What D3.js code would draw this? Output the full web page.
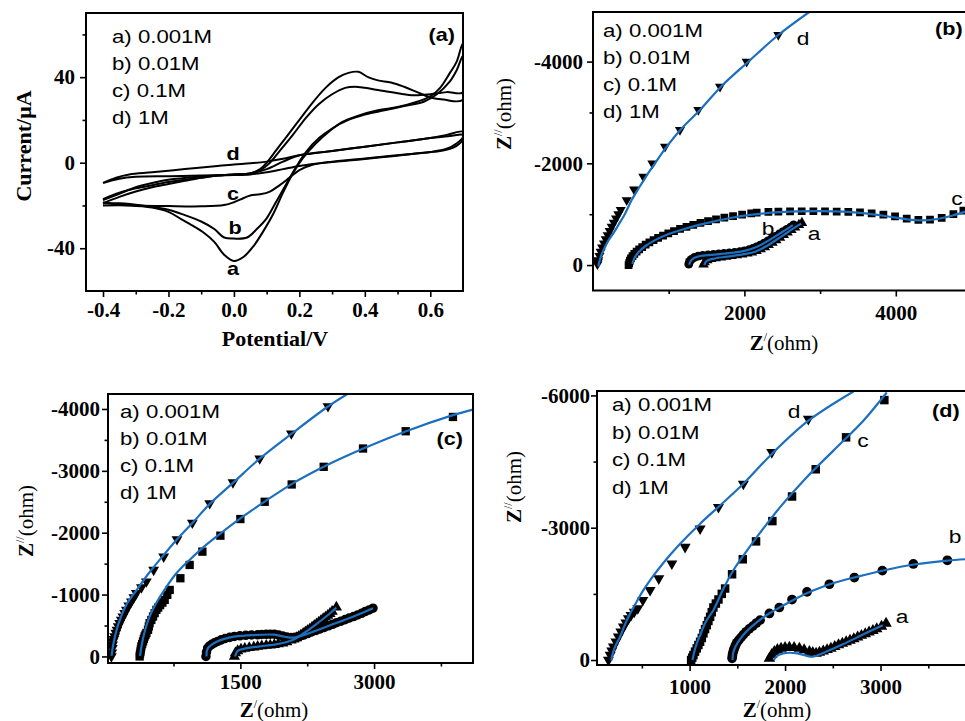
<!DOCTYPE html>
<html><head><meta charset="utf-8">
<script src="https://cdn.jsdelivr.net/npm/d3@7"></script>
<style>
body{margin:0;background:#fff}
svg{display:block;background:#fff}
.tick text{font-family:"Liberation Serif","Times New Roman",serif;font-weight:bold;font-size:21px;fill:#000}
.tick line{stroke:#000;stroke-width:1.6}
</style></head><body>
<svg id="fig" width="965" height="721"></svg>
<script>
// ---------- shared labels ----------
const concLabels = ["a) 0.001M", "b) 0.01M", "c) 0.1M", "d) 1M"];
const curveKeys = ["a", "b", "c", "d"];

// ---------- (a) cyclic voltammograms: [potential / V, current / µA] ----------
const cvA = [[-0.40,-19],[-0.35,-16],[-0.30,-13.5],[-0.25,-11.5],[-0.20,-10],[-0.15,-8.5],[-0.10,-7],[-0.05,-6],[0.00,-5.5],[0.05,-5],[0.08,-3],[0.10,0],[0.13,6],[0.16,12],[0.20,20],[0.24,28],[0.28,35],[0.32,40],[0.35,42],[0.38,42.5],[0.41,40],[0.44,38.5],[0.48,37.5],[0.52,35.5],[0.56,33],[0.60,30.5],[0.64,29.5],[0.70,29.5],[0.70,56],[0.68,47],[0.66,42],[0.63,35],[0.60,31],[0.56,28.5],[0.50,26],[0.44,24.5],[0.38,22],[0.33,19],[0.29,14.5],[0.25,9],[0.21,2],[0.18,-5],[0.15,-14],[0.12,-24],[0.09,-32],[0.06,-39],[0.03,-44],[0.00,-46],[-0.03,-43],[-0.06,-37],[-0.09,-33],[-0.12,-30],[-0.16,-26.5],[-0.20,-23],[-0.25,-21],[-0.32,-20],[-0.40,-20]];
const cvB = [[-0.40,-17],[-0.35,-14],[-0.30,-12],[-0.25,-10.5],[-0.20,-9],[-0.15,-8],[-0.10,-7],[-0.05,-6],[0.00,-5.5],[0.05,-5],[0.08,-3.5],[0.11,0],[0.14,5.5],[0.18,13],[0.22,21],[0.26,27.5],[0.30,32],[0.34,35],[0.37,35.5],[0.40,35],[0.44,34],[0.50,32.5],[0.55,31.5],[0.60,32],[0.65,33],[0.70,33],[0.70,50],[0.68,43],[0.66,38],[0.62,32],[0.58,28.5],[0.52,26.5],[0.46,24.5],[0.40,22.5],[0.35,20],[0.30,16],[0.26,11.5],[0.22,5],[0.19,-2],[0.16,-10],[0.13,-18],[0.10,-26],[0.07,-31],[0.04,-35],[0.00,-35.5],[-0.03,-35],[-0.06,-31],[-0.10,-27.5],[-0.15,-24.5],[-0.20,-22],[-0.28,-20],[-0.35,-19],[-0.40,-19]];
const cvC = [[-0.40,-17.5],[-0.35,-14.5],[-0.30,-11.5],[-0.25,-9.5],[-0.20,-8],[-0.10,-6.5],[0.00,-5.5],[0.05,-5],[0.10,-3],[0.15,0.5],[0.20,3.5],[0.25,4.5],[0.30,5.5],[0.40,7.5],[0.50,9.5],[0.60,11.5],[0.65,13],[0.70,14.5],[0.70,12],[0.68,9],[0.65,6.5],[0.60,5],[0.50,3.5],[0.40,2],[0.30,0.5],[0.24,-1],[0.20,-3.5],[0.17,-7],[0.14,-10.5],[0.11,-13.5],[0.08,-14.8],[0.05,-15.3],[0.03,-16.5],[0.00,-18.5],[-0.03,-19.8],[-0.10,-20.4],[-0.20,-20.3],[-0.30,-20],[-0.36,-19.5],[-0.40,-18.5]];
const cvD = [[-0.40,-9.5],[-0.36,-7],[-0.32,-5.5],[-0.25,-4.5],[-0.15,-3],[-0.05,-1.5],[0.00,-0.8],[0.05,-0.3],[0.10,0.5],[0.15,1.8],[0.20,3.5],[0.30,5.5],[0.40,7.5],[0.50,9.5],[0.60,11.5],[0.66,12.5],[0.70,13],[0.70,11],[0.67,7],[0.63,5.5],[0.55,4.2],[0.45,2.5],[0.35,1],[0.25,-0.5],[0.20,-1.5],[0.15,-3],[0.10,-4.5],[0.05,-5.5],[0.00,-5.8],[-0.10,-6],[-0.20,-6.3],[-0.30,-6.6],[-0.35,-7.5],[-0.40,-9.5]];
const cvTicksMajorX = [-0.4,-0.2,0,0.2,0.4,0.6];
const cvTicksMinorX = [-0.3,-0.1,0.1,0.3,0.5];
const cvTicksMajorY = [-40,0,40];
const cvTicksMinorY = [-20,20,60];

// ---------- (b) Nyquist data: [Z' / ohm, Z'' / ohm] ----------
const nbA = [[1460,-10],[1475,-55],[1510,-95],[1560,-120],[1620,-135],[1690,-150],[1760,-165],[1830,-180],[1900,-195],[1970,-210],[2040,-228],[2100,-250],[2160,-275],[2215,-310],[2270,-350],[2320,-395],[2370,-440],[2420,-490],[2470,-540],[2520,-590],[2570,-640],[2620,-690],[2670,-740],[2720,-790],[2760,-830]];
const nbB = [[1265,-20],[1275,-70],[1300,-110],[1340,-150],[1390,-175],[1450,-190],[1520,-200],[1590,-210],[1660,-220],[1730,-230],[1800,-240],[1870,-250],[1940,-262],[2000,-280],[2060,-300],[2110,-325],[2160,-355],[2210,-390],[2260,-430],[2310,-475],[2360,-520],[2410,-565],[2460,-610],[2510,-655],[2560,-700],[2610,-745],[2650,-790]];
const nbC = [[470,0],[478,-40],[488,-85],[502,-130],[522,-175],[546,-220],[576,-265],[610,-310],[650,-355],[695,-400],[745,-445],[800,-490],[860,-535],[925,-580],[995,-625],[1070,-668],[1150,-710],[1235,-750],[1325,-790],[1420,-828],[1520,-865],[1625,-900],[1735,-932],[1850,-962],[1970,-990],[2090,-1015],[2162,-1030],[2317,-1045],[2449,-1050],[2603,-1055],[2757,-1058],[2911,-1058],[3065,-1055],[3219,-1050],[3373,-1045],[3527,-1035],[3681,-1015],[3836,-990],[3990,-955],[4144,-915],[4298,-890],[4452,-895],[4606,-930],[4761,-1000],[4893,-1070]];
const nbD = [[58,-15],[64,-55],[70,-98],[85,-180],[101,-262],[120,-345],[145,-426],[168,-508],[194,-590],[220,-672],[247,-754],[275,-836],[304,-918],[335,-1000],[366,-1082],[445,-1278],[542,-1488],[665,-1737],[784,-2000],[951,-2327],[1149,-2655],[1391,-3048],[1678,-3507],[2030,-3998],[2448,-4523]];
const fbA = [[1470,0],[1500,-80],[1600,-128],[1800,-172],[2000,-215],[2150,-268],[2300,-380],[2500,-575],[2700,-770],[2750,-815]];
const fbB = [[1270,-5],[1300,-100],[1400,-172],[1600,-205],[1850,-245],[2000,-280],[2150,-350],[2300,-465],[2500,-650],[2640,-785]];
const fbC = [[520,-20],[545,-130],[600,-250],[690,-370],[820,-490],[1000,-610],[1250,-730],[1500,-825],[1800,-920],[2100,-990],[2400,-1035],[2700,-1055],[3000,-1060],[3300,-1050],[3600,-1015],[3900,-955],[4150,-900],[4350,-880],[4550,-905],[4750,-975],[4950,-1065]];
const fbD = [[70,30],[100,-150],[150,-330],[210,-500],[268,-623],[340,-800],[420,-1000],[511,-1278],[600,-1500],[700,-1740],[820,-2000],[973,-2327],[1180,-2700],[1413,-3048],[1700,-3520],[2052,-3998],[2448,-4523],[2870,-4990]];

// ---------- (c) Nyquist data ----------
const ncA = [[1433,0],[1445,-55],[1470,-90],[1507,-115],[1550,-128],[1600,-140],[1650,-150],[1694,-161],[1740,-168],[1790,-176],[1835,-182],[1881,-189],[1925,-200],[1975,-215],[2020,-235],[2068,-260],[2100,-280],[2130,-300],[2155,-322],[2180,-345],[2205,-370],[2230,-395],[2255,-420],[2280,-445],[2305,-472],[2330,-498],[2355,-525],[2380,-552],[2405,-580],[2430,-608],[2455,-634],[2480,-660],[2505,-692],[2530,-725],[2577,-796]];
const ncB = [[1114,0],[1120,-70],[1133,-135],[1155,-170],[1180,-195],[1210,-220],[1245,-242],[1285,-268],[1330,-290],[1380,-308],[1433,-323],[1495,-334],[1560,-342],[1625,-347],[1694,-350],[1740,-355],[1790,-358],[1835,-360],[1881,-360],[1930,-345],[1975,-330],[2020,-315],[2068,-305],[2115,-310],[2160,-320],[2210,-345],[2255,-370],[2300,-395],[2350,-420],[2395,-445],[2442,-470],[2490,-495],[2535,-520],[2580,-545],[2629,-570],[2675,-595],[2720,-620],[2770,-645],[2816,-670],[2860,-697],[2900,-725],[2945,-752],[2988,-780]];
const ncC = [[370,0],[374,-40],[380,-80],[384,-120],[389,-161],[398,-200],[408,-242],[417,-283],[426,-323],[436,-352],[446,-380],[464,-430],[473,-485],[482,-538],[501,-590],[520,-645],[539,-700],[558,-753],[578,-790],[600,-830],[625,-870],[651,-914],[680,-995],[707,-1075],[827,-1264],[931,-1479],[1074,-1694],[1276,-1952],[1500,-2221],[1773,-2500],[2076,-2780],[2435,-3065],[2876,-3361],[3355,-3640],[3885,-3871]];
const ncD = [[53,0],[58,-60],[64,-135],[67,-190],[71,-242],[80,-280],[90,-323],[103,-380],[116,-430],[130,-485],[146,-538],[164,-590],[183,-645],[202,-700],[221,-753],[248,-820],[277,-887],[305,-955],[333,-1022],[390,-1115],[445,-1210],[527,-1398],[640,-1613],[789,-1893],[961,-2161],[1156,-2474],[1417,-2812],[1717,-3199],[2072,-3603],[2483,-4043]];
const fcA = [[1440,0],[1470,-90],[1560,-130],[1700,-160],[1880,-190],[2000,-225],[2100,-275],[2200,-365],[2350,-520],[2500,-690],[2577,-790]];
const fcB = [[1120,0],[1135,-130],[1240,-240],[1430,-320],[1700,-348],[1880,-352],[2000,-318],[2100,-305],[2250,-365],[2500,-500],[2750,-635],[2988,-780]];
const fcC = [[375,-10],[395,-200],[430,-420],[480,-640],[555,-860],[650,-1080],[780,-1340],[930,-1560],[1080,-1760],[1280,-1990],[1500,-2230],[1780,-2510],[2080,-2790],[2440,-3070],[2880,-3360],[3360,-3640],[3885,-3900],[4110,-3990]];
const fcD = [[55,-10],[75,-200],[110,-420],[160,-640],[230,-860],[340,-1080],[470,-1340],[640,-1640],[800,-1910],[970,-2170],[1160,-2470],[1420,-2810],[1720,-3200],[2075,-3600],[2483,-4040],[2710,-4250]];

// ---------- (d) Nyquist data ----------
const ndA = [[1836,-38],[1860,-120],[1888,-188],[1920,-235],[1958,-264],[2000,-282],[2045,-287],[2095,-280],[2150,-264],[2200,-228],[2255,-188],[2290,-165],[2325,-151],[2360,-175],[2400,-200],[2440,-232],[2480,-265],[2520,-302],[2560,-340],[2600,-375],[2640,-410],[2680,-445],[2720,-480],[2760,-518],[2800,-555],[2840,-592],[2880,-630],[2920,-668],[2960,-705],[3010,-760],[3058,-829]];
const ndB = [[1445,-38],[1448,-95],[1452,-151],[1460,-210],[1469,-264],[1480,-330],[1494,-391],[1515,-450],[1539,-513],[1565,-578],[1592,-640],[1625,-705],[1662,-769],[1700,-838],[1738,-904],[1836,-1055],[1940,-1191],[2073,-1372],[2230,-1544],[2464,-1718],[2726,-1870],[3019,-2027],[3344,-2178],[3700,-2261]];
const ndC = [[1016,0],[1028,-55],[1040,-113],[1057,-190],[1075,-264],[1092,-340],[1110,-414],[1128,-500],[1145,-604],[1162,-700],[1180,-791],[1197,-885],[1215,-979],[1232,-1085],[1249,-1191],[1275,-1280],[1302,-1372],[1337,-1500],[1372,-1621],[1445,-1944],[1557,-2284],[1696,-2690],[1867,-3150],[2073,-3708],[2321,-4325],[2639,-5049],[3040,-5894]];
const ndD = [[150,0],[168,-113],[185,-210],[202,-301],[228,-415],[254,-527],[280,-640],[307,-753],[333,-848],[359,-943],[387,-1017],[420,-1090],[457,-1169],[510,-1357],[586,-1583],[677,-1847],[814,-2186],[953,-2562],[1110,-2977],[1302,-3466],[1563,-3995],[1861,-4710],[2244,-5465]];
const fdA = [[1880,0],[1920,-100],[1980,-150],[2045,-165],[2130,-150],[2220,-100],[2290,-75],[2400,-160],[2600,-350],[2800,-560],[3023,-791]];
const fdB = [[1450,0],[1455,-150],[1480,-300],[1530,-480],[1600,-660],[1700,-850],[1830,-1050],[1950,-1200],[2100,-1380],[2300,-1580],[2500,-1740],[2750,-1885],[3030,-2030],[3350,-2165],[3700,-2255],[4000,-2300]];
const fdC = [[1030,0],[1045,-150],[1075,-376],[1110,-560],[1145,-754],[1190,-940],[1249,-1130],[1350,-1600],[1459,-2035],[1580,-2420],[1704,-2788],[1948,-3466],[2227,-4144],[2506,-4748],[2820,-5426],[3065,-6066]];
const fdD = [[180,10],[195,-150],[225,-330],[272,-527],[320,-790],[377,-1055],[445,-1320],[516,-1583],[600,-1850],[691,-2110],[790,-2370],[901,-2638],[1110,-3091],[1319,-3504],[1563,-3995],[1861,-4673],[2244,-5426],[2716,-6089]];

// ---------- drawing helpers ----------
const svg = d3.select("#fig");
const FIT = "#1c6fbf";
const SANS = "'Liberation Sans', Arial, sans-serif";
const SERIF = "'Liberation Serif', 'Times New Roman', serif";
const STRETCH = 1.2;

function sansText(parent, x, y, str, size, weight, anchor) {
  return parent.append("text")
    .attr("transform", `translate(${x},${y}) scale(${STRETCH},1)`)
    .attr("text-anchor", anchor || "start")
    .attr("font-family", SANS).attr("font-size", size)
    .attr("font-weight", weight || "normal").attr("fill", "#000")
    .text(str);
}

function makePanel(p) {
  const g = svg.append("g");
  const x = d3.scaleLinear().domain(p.xDomain).range(p.xRange);
  const y = d3.scaleLinear().domain(p.yDomain).range(p.yRange);
  const [x0, x1] = p.xRange, [yb, yt] = p.yRange;
  const cid = "clip-" + p.id;
  svg.append("defs").append("clipPath").attr("id", cid)
    .append("rect").attr("x", x0).attr("y", yt).attr("width", x1 - x0).attr("height", yb - yt);

  const strip = s => s.select(".domain").remove();
  g.append("g").attr("transform", `translate(${x0},0)`)
    .call(d3.axisLeft(y).tickValues(p.yMajor).tickSize(6).tickPadding(p.yPad).tickFormat(p.yFmt)).call(strip);
  g.append("g").attr("transform", `translate(${x0},0)`)
    .call(d3.axisLeft(y).tickValues(p.yMinor).tickSize(3.5).tickFormat("")).call(strip);
  g.append("g").attr("transform", `translate(0,${yb})`)
    .call(d3.axisBottom(x).tickValues(p.xMajor).tickSize(6).tickPadding(p.xPad).tickFormat(p.xFmt)).call(strip);
  g.append("g").attr("transform", `translate(0,${yb})`)
    .call(d3.axisBottom(x).tickValues(p.xMinor).tickSize(3.5).tickFormat("")).call(strip);

  const plot = g.append("g").attr("clip-path", `url(#${cid})`);
  const frame = () => g.append("rect").attr("x", x0).attr("y", yt)
    .attr("width", x1 - x0).attr("height", yb - yt)
    .attr("fill", "none").attr("stroke", "#000").attr("stroke-width", 2);
  return { g, plot, x, y, frame };
}

function legend(g, x, y0, step) {
  concLabels.forEach((t, i) => sansText(g, x, y0 + i * step, t, 18.5));
}

function zLabel(x, y, primes, rotated) {
  const t = svg.append("text")
    .attr("transform", rotated ? `translate(${x},${y}) rotate(-90)` : `translate(${x},${y})`)
    .attr("text-anchor", "middle").attr("font-family", SERIF).attr("font-size", 21).attr("fill", "#000");
  t.append("tspan").attr("font-weight", "bold").text("Z");
  t.append("tspan").attr("font-size", 12).attr("dy", -9).text(primes);
  t.append("tspan").attr("dy", 9).text("(ohm)");
}

const fmtInt = d => String(d);

// symbols: a = up triangle, b = circle, c = square, d = down triangle
const symDefs = {
  a: { type: d3.symbolTriangle, size: 48, rot: 0 },
  b: { type: d3.symbolCircle, size: 62, rot: 0 },
  c: { type: d3.symbolSquare, size: 60, rot: 0 },
  d: { type: d3.symbolTriangle, size: 44, rot: 180 }
};

function nyquist(P, sets, fits, scale) {
  const sc = scale || 1;
  curveKeys.forEach((k, i) => {
    const s = symDefs[k];
    const path = d3.symbol().type(s.type).size(s.size * sc)();
    P.plot.append("g").selectAll("path").data(sets[i]).join("path")
      .attr("d", path).attr("fill", "#000")
      .attr("transform", d => `translate(${P.x(d[0])},${P.y(d[1])}) rotate(${s.rot})`);
  });
  const line = d3.line().x(d => P.x(d[0])).y(d => P.y(d[1])).curve(d3.curveCatmullRom.alpha(0.5));
  fits.forEach(f => P.plot.append("path").attr("d", line(f))
    .attr("fill", "none").attr("stroke", FIT).attr("stroke-width", 2.2));
}

// ---------- panel (a): cyclic voltammetry ----------
const PA = makePanel({
  id: "a", xDomain: [-0.452, 0.7], xRange: [86, 463], yDomain: [-60, 70], yRange: [291, 13],
  xMajor: cvTicksMajorX, xMinor: cvTicksMinorX, yMajor: cvTicksMajorY, yMinor: cvTicksMinorY,
  xFmt: d => d.toFixed(1), yFmt: fmtInt, xPad: 5, yPad: 5
});
const cvLine = d3.line().x(d => PA.x(d[0])).y(d => PA.y(d[1])).curve(d3.curveCatmullRom.alpha(0.5));
[cvA, cvB, cvC, cvD].forEach(c => PA.plot.append("path").attr("d", cvLine(c))
  .attr("fill", "none").attr("stroke", "#000").attr("stroke-width", 2).attr("stroke-linejoin", "round"));
PA.frame();
legend(PA.g, 112, 42.5, 27.3);
sansText(PA.g, 455, 41, "(a)", 18, "bold", "end");
[["d", 233, 160], ["c", 233, 200], ["b", 235, 234], ["a", 233, 275]]
  .forEach(([t, x, y]) => sansText(PA.g, x, y, t, 18, "bold", "middle"));
svg.append("text").attr("transform", "translate(31,146) rotate(-90)").attr("text-anchor", "middle")
  .attr("font-family", SERIF).attr("font-weight", "bold").attr("font-size", 22).text("Current/\u03BCA");
svg.append("text").attr("x", 275).attr("y", 346).attr("text-anchor", "middle")
  .attr("font-family", SERIF).attr("font-weight", "bold").attr("font-size", 22).text("Potential/V");

// ---------- panel (b) ----------
const PB = makePanel({
  id: "b", xDomain: [0, 5000], xRange: [593, 971.5], yDomain: [500, -4975], yRange: [290.5, 12],
  xMajor: [2000, 4000], xMinor: [1000, 3000], yMajor: [0, -2000, -4000], yMinor: [-1000, -3000],
  xFmt: fmtInt, yFmt: fmtInt, xPad: 8.5, yPad: 4
});
nyquist(PB, [nbA, nbB, nbC, nbD], [fbA, fbB, fbC, fbD]);
PB.frame();
legend(PB.g, 603, 36.5, 27.3);
sansText(PB.g, 935, 35, "(b)", 18, "bold", "start");
[["d", 803, 45], ["c", 957, 205], ["b", 768, 235], ["a", 814, 240]]
  .forEach(([t, x, y]) => sansText(PB.g, x, y, t, 19, "normal", "middle"));
zLabel(784, 350, "/", false);
zLabel(511, 114, "//", true);

// ---------- panel (c) ----------
const PC = makePanel({
  id: "c", xDomain: [15, 4110], xRange: [108, 473], yDomain: [106, -4242], yRange: [663, 394],
  xMajor: [1500, 3000], xMinor: [750, 2250, 3750], yMajor: [0, -1000, -2000, -3000, -4000], yMinor: [-500, -1500, -2500, -3500],
  xFmt: fmtInt, yFmt: fmtInt, xPad: 5, yPad: 2
});
nyquist(PC, [ncA, ncB, ncC, ncD], [fcA, fcB, fcC, fcD], 1.15);
PC.frame();
legend(PC.g, 120, 418, 27);
sansText(PC.g, 463, 445, "(c)", 18, "bold", "end");
zLabel(274, 717, "/", false);
zLabel(33, 521, "//", true);

// ---------- panel (d) ----------
const PD = makePanel({
  id: "d", xDomain: [30, 4000], xRange: [597, 976], yDomain: [113, -6100], yRange: [665, 391],
  xMajor: [1000, 2000, 3000], xMinor: [500, 1500, 2500, 3500], yMajor: [0, -3000, -6000], yMinor: [-1500, -4500],
  xFmt: fmtInt, yFmt: fmtInt, xPad: 8, yPad: 1
});
nyquist(PD, [ndA, ndB, ndC, ndD], [fdA, fdB, fdC, fdD], 1.2);
PD.frame();
legend(PD.g, 612, 411, 27.6);
sansText(PD.g, 932, 417, "(d)", 18, "bold", "start");
[["d", 794, 418], ["c", 863, 447], ["b", 955, 543], ["a", 902, 623]]
  .forEach(([t, x, y]) => sansText(PD.g, x, y, t, 19, "normal", "middle"));
zLabel(777, 717, "/", false);
zLabel(521, 487, "//", true);
</script>
</body></html>
